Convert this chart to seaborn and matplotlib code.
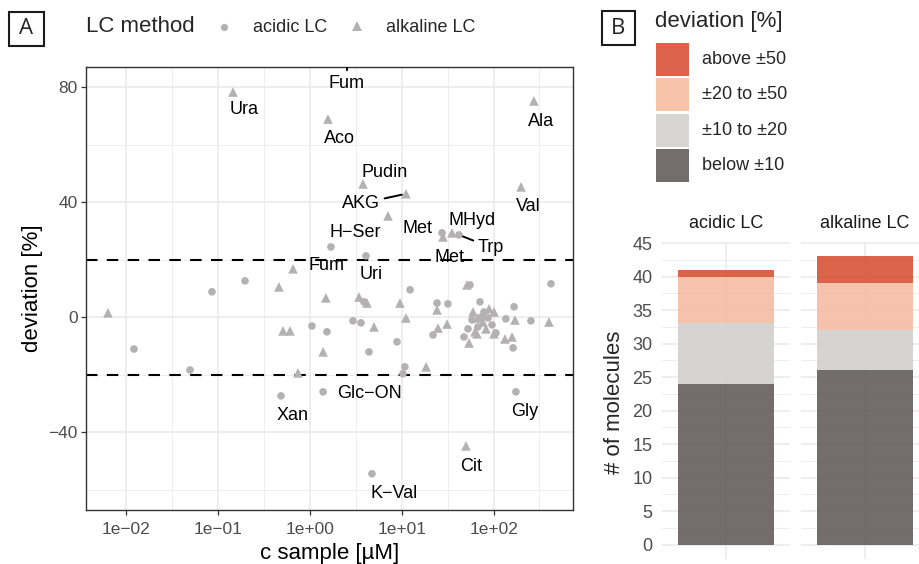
import matplotlib
matplotlib.use("Agg")
import matplotlib.pyplot as plt
import seaborn as sns
import pandas as pd
import numpy as np
from matplotlib.lines import Line2D
from matplotlib.patches import Rectangle

# ---------------- data ----------------
acidic_conc = [0.0121, 0.0855, 0.196, 0.0493, 1.05, 1.53, 0.483, 1.39, 1.69, 4.07,
               27.4, 42.0, 4.73, 175, 12.3, 3.87, 24.2, 31.8, 2.94, 3.59,
               21.9, 8.87, 4.39, 10.8, 10.3, 55.3, 422, 71.1, 167, 78.6,
               136, 255, 58.2, 74.8, 86.9, 96.1, 67.6, 52.6, 47.6, 106, 163]
acidic_dev = [-11.0, 8.9, 12.7, -18.3, -3.0, -5.0, -27.3, -25.9, 24.5, 21.4,
              29.4, 28.7, -54.4, -25.9, 9.6, 5.4, 5.0, 4.7, -1.2, -1.9,
              -6.1, -8.5, -12.0, -17.2, -19.6, 11.3, 11.7, 5.4, 3.7, 1.9,
              -0.5, -1.2, -0.9, 0.2, -0.2, -2.6, -3.3, -4.0, -6.8, -5.4, -10.6]

alkaline_conc = [0.145, 1.57, 275, 2.53, 3.78, 11.1, 199, 7.08, 35.2, 28.1,
                 50.0, 0.0063, 0.653, 0.459, 1.49, 0.508, 0.605, 1.39, 0.740, 3.42,
                 4.18, 9.55, 11.1, 24.2, 4.98, 24.8, 31.1, 18.4, 51.3, 59.7,
                 101, 171, 401, 76.7, 82.6, 62.7, 65.9, 101, 133, 159,
                 54.0, 67.6, 89.1]
alkaline_dev = [78.4, 69.0, 75.3, 92.0, 46.4, 43.0, 45.4, 35.3, 29.4, 28.0,
                -44.7, 1.6, 16.9, 10.6, 6.8, -4.7, -4.7, -12.0, -19.3, 7.1,
                5.0, 5.0, -0.2, 2.6, -3.3, -3.7, -2.3, -17.2, 11.3, 1.9,
                1.9, -0.9, -1.6, -1.6, -4.0, -5.0, -5.7, -5.7, -7.5, -6.8,
                -8.9, -0.2, 3.0]

# labels: name, series, index of labelled point, text position (data units), segment?
label_names = ["Ura", "Aco", "Fum", "Ala", "Pudin", "AKG", "Val", "H\u2212Ser", "MHyd", "Met",
               "Cit", "Fum", "Uri", "Met", "Trp", "Xan", "Glc\u2212ON", "Gly", "K\u2212Val"]
label_series = ["alkaline LC"] * 11 + ["acidic LC"] * 8
label_index = [0, 1, 3, 2, 4, 5, 6, 7, 8, 9, 10, 8, 9, 10, 11, 6, 7, 13, 12]
label_x = [0.191, 2.07, 2.53, 328, 6.48, 3.59, 237, 3.09, 58.2, 32.7,
           56.7, 1.53, 4.62, 15.0, 93.7, 0.653, 4.45, 217, 8.32]
label_y = [72.9, 62.8, 82.1, 69.0, 51.1, 40.3, 39.1, 30.3, 34.4, 21.7,
           -51.0, 18.8, 15.5, 31.5, 25.0, -33.4, -25.7, -32.0, -60.5]
label_segment = [False, False, True, False, False, True, False, False, False, False,
                 False, False, False, False, True, False, False, False, False]

x_ticks = [1e-2, 1e-1, 1e0, 1e1, 1e2]
x_tick_labels = ["1e\u221202", "1e\u221201", "1e+00", "1e+01", "1e+02"]
y_ticks = [-40, 0, 40, 80]
y_tick_labels = ["\u221240", "0", "40", "80"]

bar_methods = ["acidic LC", "alkaline LC"]
dev_bins = ["below \u00b110", "\u00b110 to \u00b120", "\u00b120 to \u00b150", "above \u00b150"]
counts_acidic = [24, 9, 7, 1]
counts_alkaline = [26, 6, 7, 4]
bin_colors = ["#645e5b", "#d1d0cf", "#f4bda2", "#d85235"]
bin_key_colors = ["#736e6b", "#d6d5d4", "#f5c4ab", "#dc6349"]

# ---------------- style ----------------
sns.set_theme(style="white")
plt.rcParams["font.family"] = ["Liberation Sans", "DejaVu Sans"]
plt.rcParams["axes.unicode_minus"] = True

W, H = 919, 564
fig = plt.figure(figsize=(W / 100, H / 100), dpi=100)


def fx(px):
    return px / W


def fy(py):
    return 1 - py / H


POINT_COLOR = "#b3b1b1"
GRID = "#ebebeb"

# ---------------- panel A ----------------
axA = fig.add_axes([fx(86), fy(510), fx(573) - fx(86), fy(67) - fy(510)])
axA.set_xscale("log")
axA.set_xlim(10 ** -2.44, 10 ** 2.865)
axA.set_ylim(-67.0, 87.1)

for v in [10 ** (k + 0.5) for k in range(-3, 3)]:
    axA.axvline(v, color=GRID, lw=0.6, zorder=0)
for v in [-60, -20, 20, 60]:
    axA.axhline(v, color=GRID, lw=0.6, zorder=0)
for v in x_ticks:
    axA.axvline(v, color=GRID, lw=1.2, zorder=0)
for v in y_ticks:
    axA.axhline(v, color=GRID, lw=1.2, zorder=0)

for v in [-20, 20]:
    axA.axhline(v, color="black", lw=1.5, ls=(0, (5.5, 4.5)), zorder=1)

df_ac = pd.DataFrame({"conc": acidic_conc, "dev": acidic_dev, "method": "acidic LC"})
df_al = pd.DataFrame({"conc": alkaline_conc, "dev": alkaline_dev, "method": "alkaline LC"})
sns.scatterplot(data=df_ac, x="conc", y="dev", marker="o", s=30, color=POINT_COLOR,
                edgecolor="none", linewidth=0, ax=axA, legend=False, zorder=2)
sns.scatterplot(data=df_al, x="conc", y="dev", marker="^", s=48, color=POINT_COLOR,
                edgecolor="none", linewidth=0, ax=axA, legend=False, zorder=2)

series = {"acidic LC": df_ac, "alkaline LC": df_al}
for name, ser, idx, tx, ty, seg in zip(label_names, label_series, label_index,
                                       label_x, label_y, label_segment):
    d = series[ser]
    px, py = d["conc"].iloc[idx], d["dev"].iloc[idx]
    kw = {}
    if seg:
        kw["arrowprops"] = dict(arrowstyle="-", lw=1.4, color="black", shrinkA=1, shrinkB=3)
    ann = axA.annotate(name, xy=(px, py), xytext=(tx, ty), textcoords="data",
                       ha="center", va="center_baseline", fontsize=13, color="black",
                       annotation_clip=False, zorder=3, **kw)
    if seg and ann.arrow_patch is not None:
        ann.arrow_patch.set_clip_box(axA.bbox)
        ann.arrow_patch.set_clip_on(True)

axA.set_xticks(x_ticks)
axA.set_xticklabels(x_tick_labels)
axA.xaxis.set_minor_locator(matplotlib.ticker.NullLocator())
axA.set_yticks(y_ticks)
axA.set_yticklabels(y_tick_labels)
axA.tick_params(axis="both", which="major", length=3.5, width=0.9, color="#333333",
                labelsize=12.5, labelcolor="#4d4d4d", pad=2.5, direction="out",
                bottom=True, left=True)
axA.tick_params(axis="x", pad=5.5)
for s in axA.spines.values():
    s.set_color("#333333")
    s.set_linewidth(1.0)
axA.set_xlabel("c sample [\u00b5M]", fontsize=16, color="black", labelpad=4)
axA.set_ylabel("deviation [%]", fontsize=16, color="black", labelpad=4)

# panel A legend
fig.text(fx(86), fy(27), "LC method", fontsize=16, ha="left", va="center")
fig.add_artist(Line2D([fx(224)], [fy(27)], marker="o", markersize=5.2, color=POINT_COLOR,
                      markeredgewidth=0, transform=fig.transFigure))
fig.text(fx(253), fy(27), "acidic LC", fontsize=13, ha="left", va="center")
fig.add_artist(Line2D([fx(357)], [fy(26)], marker="^", markersize=6.5, color=POINT_COLOR,
                      markeredgewidth=0, transform=fig.transFigure))
fig.text(fx(386), fy(27), "alkaline LC", fontsize=13, ha="left", va="center")

# panel letters
for (x0, y0, x1, y1, letter) in [(9, 12, 44, 46, "A"), (602, 11, 635, 45, "B")]:
    fig.add_artist(Rectangle((fx(x0), fy(y1)), fx(x1) - fx(x0), fy(y0) - fy(y1),
                             transform=fig.transFigure, fill=False, ec="#1a1a1a", lw=1.5))
    fig.text(fx((x0 + x1) / 2), fy((y0 + y1) / 2), letter, fontsize=16, ha="center",
             va="center", family=["Open Sans", "DejaVu Sans"])

# ---------------- panel B ----------------
rows = []
for m, cnts in zip(bar_methods, [counts_acidic, counts_alkaline]):
    for b, c in zip(dev_bins, cnts):
        rows.append({"method": m, "bin": b, "count": c})
dfb = pd.DataFrame(rows)
palette = dict(zip(dev_bins, bin_colors))

facet_px = [(662, 790), (801, 929)]
for i, (m, (x0, x1)) in enumerate(zip(bar_methods, facet_px)):
    ax = fig.add_axes([fx(x0), fy(559), fx(x1) - fx(x0), fy(242) - fy(559)])
    ax.set_axisbelow(True)
    for v in np.arange(2.5, 45, 5):
        ax.axhline(v, color=GRID, lw=0.6, zorder=0)
    for v in np.arange(0, 46, 5):
        ax.axhline(v, color=GRID, lw=1.2, zorder=0)
    ax.axvline(0, color=GRID, lw=1.2, zorder=0)
    sub = dfb[dfb["method"] == m].copy()
    sub["xpos"] = 0
    sns.histplot(data=sub, x="xpos", weights="count", hue="bin", hue_order=dev_bins[::-1],
                 multiple="stack", discrete=True, shrink=0.9, palette=palette,
                 alpha=0.9, linewidth=0, legend=False, ax=ax, zorder=2)
    ax.set_xlim(-0.6, 0.6)
    ax.set_ylim(-2.15, 45.15)
    ax.set_xticks([])
    ax.set_xlabel("")
    ax.set_ylabel("")
    for s in ax.spines.values():
        s.set_visible(False)
    ax.set_yticks(np.arange(0, 46, 5))
    if i == 0:
        ax.tick_params(axis="y", length=0, labelsize=13, labelcolor="#4d4d4d", pad=7)
    else:
        ax.set_yticklabels([])
        ax.tick_params(axis="y", length=0)
    fig.text(fx((x0 + x1) / 2 if i == 0 else 865), fy(224), m, fontsize=13,
             color="#1a1a1a", ha="center", va="center")

fig.text(fx(615), fy(402), "# of molecules", fontsize=16, rotation=90,
         ha="center", va="center")

# panel B legend
fig.text(fx(655), fy(21), "deviation [%]", fontsize=16, ha="left", va="center")
key_tops = [149, 114, 78, 43]
for b, col, top in zip(dev_bins, bin_key_colors, key_tops):
    fig.add_artist(Rectangle((fx(656), fy(top + 33)), fx(33), 33 / H,
                             transform=fig.transFigure, fc=col, ec="none"))
    fig.text(fx(702), fy(top + 16.5), b, fontsize=13, ha="left", va="center")

fig.savefig("out.png", dpi=100)
